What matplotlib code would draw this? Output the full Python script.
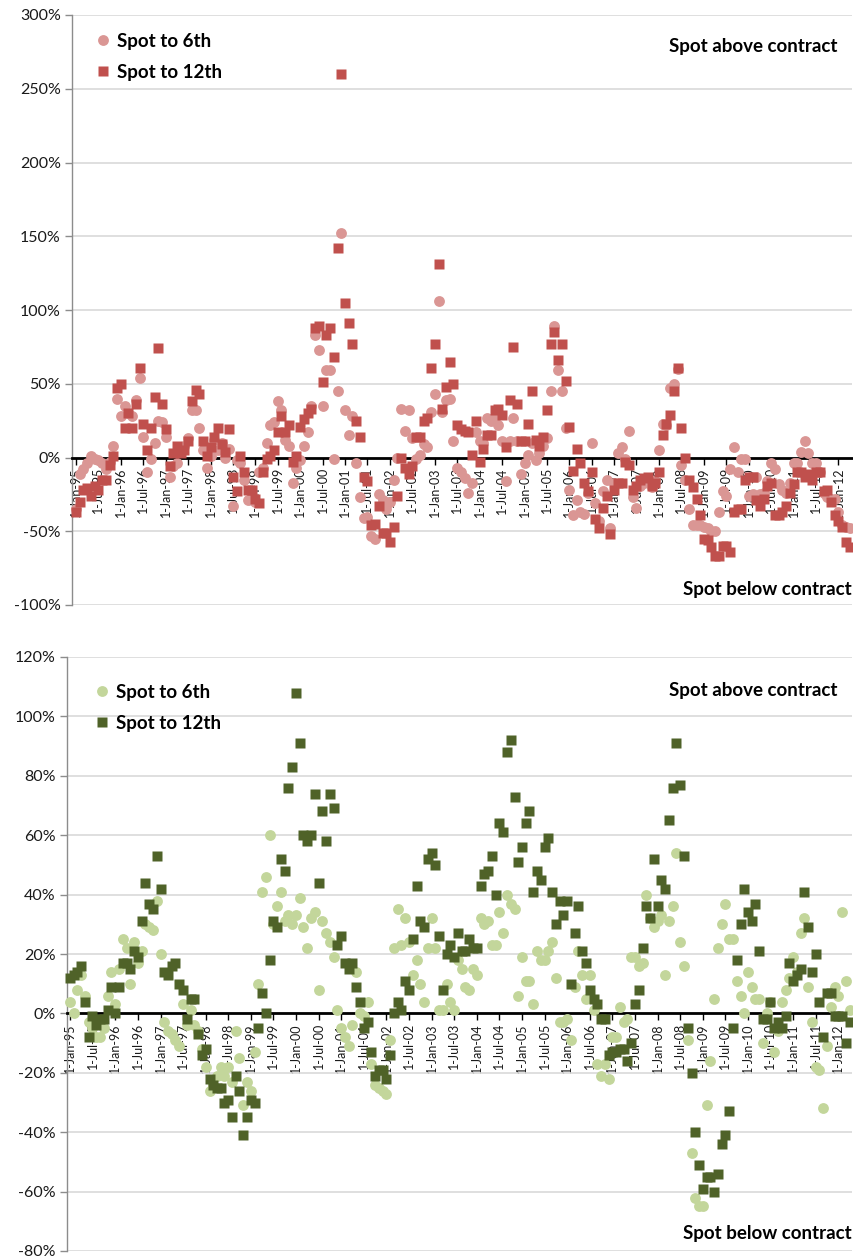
import matplotlib
matplotlib.use("Agg")
import matplotlib.pyplot as plt
from matplotlib.ticker import FuncFormatter, MultipleLocator
from matplotlib.lines import Line2D
import pandas as pd

plt.rcParams['font.family'] = ['Lato', 'DejaVu Sans']

# monthly observations, Jan 1995 - Apr 2012 (values in %)
months = pd.date_range("1995-01-01", periods=208, freq="MS")

# upper chart
upper_6th = [
    -35, -11, -8, -4, 1, -1, -2, -4, -8, -3, 8, 40,
    28, 35, 30, 28, 39, 54, 14, -10, -1, 10, 25, 24,
    14, -13, -6, -4, 4, 8, 13, 32, 32, 20, 5, -7,
    1, 12, 5, 10, 0, 6, -33, -2, -4, -15, -29, -26,
    -30, -10, -7, 10, 22, 24, 38, 32, 12, 8, -17, -7,
    -2, 8, 17, 35, 83, 73, 35, 59, 59, -1, 45, 152,
    32, 15, 28, -4, -27, -41, -40, -53, -55, -25, -29, -35,
    -30, -15, 0, 33, 18, 32, 13, -1, 2, 9, 7, 31,
    43, 106, 31, 39, 40, 11, -7, -10, -14, -24, -17, 17,
    11, 10, 27, 25, 27, 22, 11, -16, 11, 27, 11, -11,
    -4, 2, 10, -2, 3, 8, 13, 45, 89, 59, 45, 20,
    -22, -39, -29, -37, -38, -24, 10, -31, -43, -23, -15, -48,
    -17, 3, 7, -1, 18, -27, -34, -19, -17, -15, -20, -16,
    5, 23, 22, 47, 50, 60, -5, -15, -35, -46, -46, -46,
    -47, -48, -50, -50, -37, -23, -26, -8, 7, -10, -1, -1,
    -26, -25, -13, -25, -24, -16, -4, -8, -18, -22, -24, -17,
    -4, -4, 4, 11, 3, -4, -4, -10, -24, -27, -28, -28,
    -37, -46, -47, -48,
]
upper_12th = [
    -37, -30, -22, -21, -26, -19, -22, -15, -15, -5, 1, 47,
    50, 20, 30, 20, 36, 61, 23, 5, 20, 41, 74, 36,
    19, -6, 3, 8, 3, 5, 11, 38, 46, 43, 11, 1,
    7, 14, 20, 9, 4, 19, -13, -23, 1, -10, -22, -22,
    -28, -31, -10, -1, 1, 5, 17, 28, 17, 22, -3, 1,
    21, 26, 30, 33, 88, 89, 51, 83, 88, 68, 142, 260,
    105, 91, 77, 25, 14, -13, -16, -46, -45, -33, -51, -51,
    -57, -47, -26, 0, -7, -11, -6, 14, 14, 25, 27, 61,
    77, 131, 33, 48, 65, 50, 22, 19, 18, 17, 2, 25,
    -3, 6, 15, 15, 32, 33, 29, 7, 39, 75, 36, 11,
    11, 23, 45, 12, 8, 14, 32, 77, 85, 66, 77, 52,
    21, -9, 6, -4, -17, -23, -10, -42, -48, -34, -26, -52,
    -22, -17, -17, -3, -5, -22, -19, -15, -14, -13, -19, -17,
    -10, 15, 23, 29, 45, 61, 20, 0, -15, -20, -28, -39,
    -55, -56, -61, -67, -67, -60, -60, -64, -37, -35, -35, -15,
    -13, -13, -29, -33, -28, -19, -17, -39, -39, -37, -33, -24,
    -18, -10, -10, -13, -11, -15, -10, -10, -23, -22, -30, -39,
    -43, -47, -57, -61,
]

# lower chart
lower_6th = [
    4, 0, 8, 13, 6, -3, -5, -8, -8, -5, 6, 14,
    3, 15, 25, 22, 10, 24, 17, 21, 30, 29, 28, 38,
    20, -3, -6, -7, -9, -11, 3, -4, 1, -4, -6, -12,
    -18, -26, -24, -21, -18, -21, -18, -23, -6, -15, -31, -23,
    -26, -13, 10, 41, 46, 60, 30, 36, 41, 31, 33, 30,
    33, 39, 29, 22, 32, 34, 8, 31, 27, 24, 19, 1,
    -5, -8, -11, -4, 14, 0, -1, 4, -17, -24, -25, -26,
    -27, -9, 22, 35, 23, 32, 24, 13, 18, 10, 4, 22,
    32, 22, 1, 1, 10, 4, 1, 18, 15, 9, 8, 15,
    13, 32, 30, 31, 23, 23, 34, 27, 40, 37, 35, 6,
    19, 11, 11, 3, 21, 18, 18, 21, 24, 12, -3, -3,
    -2, -9, 9, 21, 13, 5, 13, 1, -17, -21, -17, -22,
    -8, -8, 2, -3, -2, 19, 19, 16, 17, 40, 32, 29,
    31, 33, 13, 31, 36, 54, 24, 16, -9, -47, -62, -65,
    -65, -31, -16, 5, 22, 30, 37, 25, 25, 11, 6, 0,
    14, 9, 5, 5, -10, 0, 4, -13, -6, 4, 8, 12,
    19, 14, 27, 32, 9, -3, -18, -19, -32, -11, 2, 9,
    6, 34, 11, 1,
]
lower_12th = [
    12, 13, 14, 16, 4, -8, -1, -4, -2, -2, 1, 9,
    0, 9, 17, 17, 15, 21, 19, 31, 44, 37, 35, 53,
    42, 14, 13, 16, 17, 10, 8, -2, 5, 5, -7, -14,
    -12, -22, -24, -25, -25, -30, -29, -35, -21, -26, -41, -35,
    -29, -30, -5, 7, 0, 18, 31, 29, 52, 48, 76, 83,
    108, 91, 60, 58, 60, 74, 44, 68, 58, 74, 69, 23,
    26, 17, 15, 17, 9, 4, -5, -3, -13, -21, -19, -19,
    -22, -14, 0, 4, 1, 11, 8, 25, 43, 31, 29, 52,
    54, 50, 26, 8, 20, 23, 19, 27, 21, 21, 25, 22,
    22, 43, 47, 48, 53, 40, 64, 61, 88, 92, 73, 51,
    56, 64, 68, 41, 48, 45, 56, 59, 41, 30, 38, 33,
    38, 10, 27, 36, 21, 17, 8, 5, 3, -2, -2, -14,
    -13, -13, -12, -12, -16, -10, 3, 8, 22, 36, 32, 52,
    36, 45, 42, 65, 76, 91, 77, 53, -5, -20, -40, -51,
    -59, -55, -55, -60, -54, -44, -41, -33, -5, 18, 30, 42,
    34, 31, 37, 21, -2, -2, 4, -5, -3, -5, -1, 17,
    11, 13, 15, 41, 29, 14, 20, 4, -8, 7, 7, -1,
    -1, -1, -10, -3,
]

series_labels = ["Spot to 6th", "Spot to 12th"]
tick_dates = pd.date_range("1995-01-01", "2012-01-01", freq="6MS")
tick_labels = [f"1-{d:%b-%y}" for d in tick_dates]

W, H = 854, 1257
fig = plt.figure(figsize=(W / 100, H / 100), dpi=100)
ax1 = fig.add_axes([72 / W, 1 - 605 / H, 780 / W, 590 / H])
ax2 = fig.add_axes([67 / W, 1 - 1251 / H, 785 / W, 594 / H])


def setup(ax, lo, hi, step, xmin, xmax):
    ax.set_ylim(lo, hi)
    ax.yaxis.set_major_locator(MultipleLocator(step))
    ax.yaxis.set_major_formatter(FuncFormatter(lambda v, _: f"{v:.0f}%"))
    ax.set_xlim(pd.Timestamp(xmin), pd.Timestamp(xmax))
    ax.set_xticks(tick_dates)
    ax.set_xticklabels(tick_labels)
    ax.grid(axis="y", color="#d9d9d9", lw=1.2)
    ax.set_axisbelow(True)
    for s in ("top", "right"):
        ax.spines[s].set_visible(False)
    ax.spines["left"].set_color("#8c8c8c")
    ax.spines["left"].set_linewidth(1.0)
    ax.spines["bottom"].set_position(("data", 0))
    ax.spines["bottom"].set_color("black")
    ax.spines["bottom"].set_linewidth(2.0)
    ax.tick_params(axis="y", length=5, width=1, color="#8c8c8c",
                   labelsize=11.5, labelcolor="#1a1a1a", pad=3)
    ax.tick_params(axis="x", length=5, width=1, color="black",
                   labelsize=9, labelrotation=90, labelcolor="#1a1a1a", pad=2)


def draw(ax, s6, s12, c6, c12, legend_anchor, above_pos, below_pos):
    ax.plot(months, s6, ls="none", marker="o", ms=7.8, color=c6,
            mec="none", zorder=3, clip_on=False)
    ax.plot(months, s12, ls="none", marker="s", ms=7.4, color=c12,
            mec="none", zorder=4, clip_on=False)
    handles = [
        Line2D([], [], ls="none", marker="o", ms=7.8, color=c6, mec="none"),
        Line2D([], [], ls="none", marker="s", ms=7.4, color=c12, mec="none"),
    ]
    ax.legend(handles, series_labels, loc="upper left",
              bbox_to_anchor=legend_anchor, frameon=False,
              prop={"weight": "bold", "size": 13.5},
              handlelength=0.8, handletextpad=0.35, labelspacing=0.75,
              borderaxespad=0)
    ax.text(*above_pos, "Spot above contract", transform=ax.transAxes,
            ha="right", va="center", fontsize=13.5, fontweight="bold")
    ax.text(*below_pos, "Spot below contract", transform=ax.transAxes,
            ha="right", va="center", fontsize=13.5, fontweight="bold")


setup(ax1, -100, 300, 50, "1994-11-29", "2012-04-20")
draw(ax1, upper_6th, upper_12th, "#da9694", "#c0504d",
     (0.02, 0.983), (0.981, 0.947), (1.0, 0.027))

setup(ax2, -80, 120, 20, "1994-12-07", "2012-04-20")
draw(ax2, lower_6th, lower_12th, "#c3d69b", "#4f6228",
     (0.025, 0.968), (0.981, 0.944), (1.0, 0.029))

fig.savefig("out.png", dpi=100)
